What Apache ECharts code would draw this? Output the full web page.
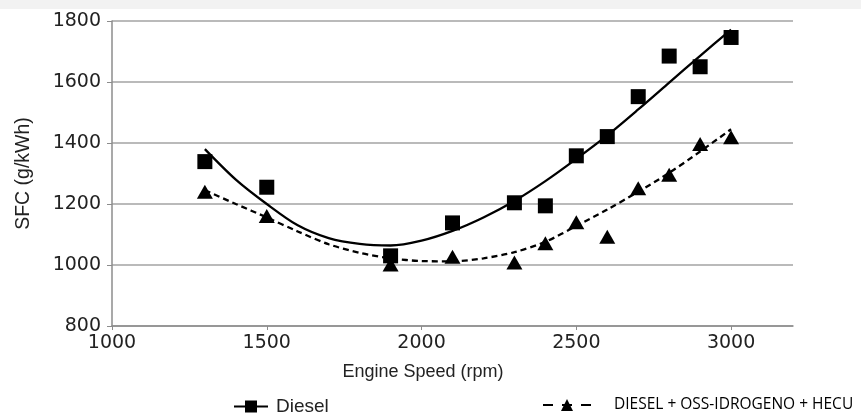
<!DOCTYPE html>
<html>
<head>
<meta charset="utf-8">
<script src="https://cdn.jsdelivr.net/npm/echarts@6/dist/echarts.min.js"></script>
<style>
html,body{margin:0;padding:0;background:#fff;}
#chart{width:861px;height:417px;}
</style>
</head>
<body>
<div id="chart"></div>
<script>
// Measured points
const rpm = [1300, 1500, 1900, 2100, 2300, 2400, 2500, 2600, 2700, 2800, 2900, 3000];
const dieselSFC = [1339, 1255, 1030, 1138, 1204, 1194, 1358, 1421, 1552, 1685, 1650, 1746];
const hecuSFC = [1240, 1161, 1002, 1027, 1008, 1071, 1140, 1093, 1252, 1296, 1397, 1419];
// Trend curves
const fitRpm = [1300, 1400, 1500, 1600, 1700, 1800, 1900, 2000, 2100, 2200, 2300, 2400, 2500, 2600, 2700, 2800, 2900, 3000];
const dieselFit = [1380, 1280, 1200, 1130, 1088, 1069, 1064, 1080, 1112, 1156, 1210, 1275, 1348, 1425, 1510, 1598, 1686, 1772];
const hecuFit = [1245, 1200, 1156, 1110, 1068, 1040, 1022, 1013, 1012, 1022, 1042, 1076, 1128, 1182, 1240, 1302, 1372, 1445];
// Axis ticks
const xTicks = [1000, 1500, 2000, 2500, 3000];
const yTicks = [800, 1000, 1200, 1400, 1600, 1800];
const seriesNames = ['Diesel', 'DIESEL + OSS-IDROGENO + HECU'];

const zip = (a, b) => a.map((v, i) => [v, b[i]]);
const chart = echarts.init(document.getElementById('chart'), null, {renderer: 'canvas'});
const tickFont = {fontFamily: 'DejaVu Sans', fontSize: 19, color: '#222'};
const plain = v => String(v);
chart.setOption({
  animation: false,
  backgroundColor: '#fff',
  graphic: [{type: 'rect', left: 0, top: 0, shape: {width: 861, height: 9}, style: {fill: '#f2f2f2'}, silent: true}],
  grid: {left: 112, top: 21, right: 68, bottom: 91},
  xAxis: {
    type: 'value', min: 1000, max: 3200, interval: 500,
    name: 'Engine Speed (rpm)', nameLocation: 'middle', nameGap: 37,
    nameTextStyle: {fontFamily: 'Liberation Sans', fontSize: 18, color: '#222', padding: [0, 59, 0, 0]},
    axisLine: {lineStyle: {color: '#8c8c8c', width: 1.5}},
    axisTick: {show: true, length: 4, lineStyle: {color: '#8c8c8c'}, customValues: xTicks},
    axisLabel: Object.assign({margin: 8, customValues: xTicks, formatter: plain}, tickFont),
    splitLine: {show: false}
  },
  yAxis: {
    type: 'value', min: 800, max: 1800, interval: 200,
    name: 'SFC (g/kWh)', nameLocation: 'middle', nameGap: 78, nameRotate: 90,
    nameTextStyle: {fontFamily: 'Liberation Sans', fontSize: 19.5, color: '#222'},
    axisLine: {show: true, lineStyle: {color: '#8c8c8c', width: 1.5}},
    axisTick: {show: true, length: 5, lineStyle: {color: '#8c8c8c'}},
    axisLabel: Object.assign({margin: 11, formatter: plain}, tickFont),
    splitLine: {show: true, lineStyle: {color: '#a3a3a3', width: 1.5}}
  },
  legend: [
    {
      data: [seriesNames[0]], left: 228, top: 392, itemWidth: 34, itemHeight: 15,
      textStyle: {fontFamily: 'Liberation Sans', fontSize: 19, color: '#222', padding: [0, 0, 0, 3]}
    },
    {
      data: [seriesNames[1]], left: 537, top: 392, itemWidth: 48, itemHeight: 15,
      lineStyle: {type: [10, 9], dashOffset: 0},
      textStyle: {fontFamily: 'Open Sans', fontSize: 15.5, color: '#000', padding: [0, 0, 0, 18]}
    }
  ],
  series: [
    {
      name: seriesNames[0], type: 'line', data: zip(fitRpm, dieselFit), smooth: 0.3,
      showSymbol: false, symbol: 'rect', symbolSize: 14,
      lineStyle: {color: '#000', width: 2.3}, itemStyle: {color: '#000'}, z: 3
    },
    {
      name: seriesNames[1], type: 'line', data: zip(fitRpm, hecuFit), smooth: 0.3,
      showSymbol: false, symbol: 'triangle', symbolSize: 14,
      lineStyle: {color: '#000', width: 2.3, type: [6, 4]}, itemStyle: {color: '#000'}, z: 3
    },
    {
      name: 'Diesel points', type: 'scatter', data: zip(rpm, dieselSFC),
      symbol: 'rect', symbolSize: 15, itemStyle: {color: '#000', opacity: 1}, z: 4
    },
    {
      name: 'HECU points', type: 'scatter', data: zip(rpm, hecuSFC),
      symbol: 'triangle', symbolSize: [16, 14], itemStyle: {color: '#000', opacity: 1}, z: 4
    }
  ]
});
</script>
</body>
</html>
